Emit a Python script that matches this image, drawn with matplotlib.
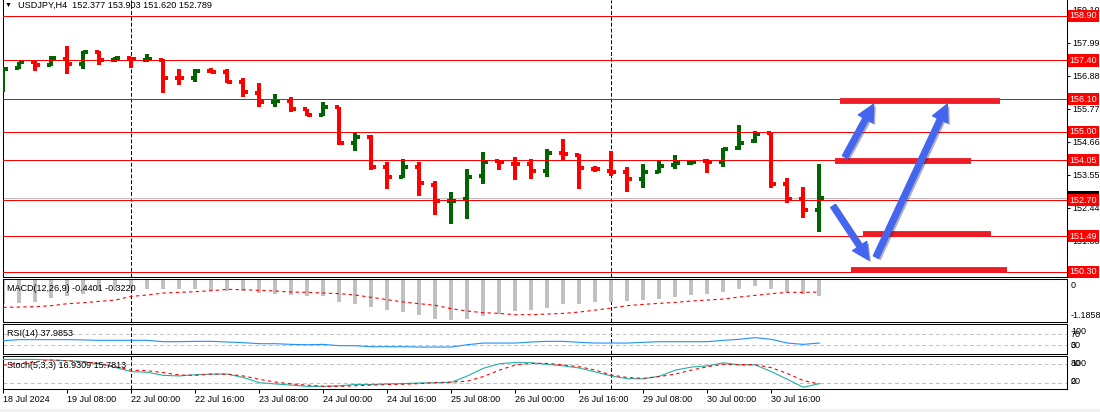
import matplotlib
matplotlib.use("Agg")
import matplotlib.pyplot as plt
import matplotlib.patheffects as pe
import matplotlib.transforms as mtransforms
from matplotlib.patches import FancyArrowPatch, Rectangle
import numpy as np

plt.rcParams['font.family'] = ['Liberation Sans', 'DejaVu Sans']

SYMBOL = "USDJPY,H4"

# H4 bars, 18 Jul 2024 .. 30 Jul 2024
opens = [156.47, 157.15, 157.33, 157.23, 157.46, 157.29, 157.67, 157.43, 157.47, 157.42,
         157.42, 156.81, 156.81, 157.05, 157.02, 156.67, 156.29, 156.01, 156.02, 155.77,
         155.56, 155.84, 154.63, 154.84, 153.82, 153.49, 153.82, 153.21, 152.66, 152.74,
         153.53, 154.02, 153.93, 153.91, 153.69, 154.29, 154.22, 153.75, 153.68, 153.66,
         153.42, 153.66, 153.88, 153.94, 154.02, 154.00, 154.44, 154.69, 154.95, 153.24,
         152.74, 152.377]
highs = [157.13, 157.35, 157.38, 157.55, 157.88, 157.70, 157.70, 157.52, 157.50, 157.60,
         157.45, 157.10, 157.10, 157.13, 157.10, 156.81, 156.63, 156.26, 156.18, 155.77,
         156.00, 155.84, 154.95, 154.89, 153.99, 154.10, 153.97, 153.35, 152.98, 153.75,
         154.32, 154.06, 154.16, 154.08, 154.42, 154.76, 154.24, 153.86, 154.35, 153.83,
         153.92, 154.02, 154.22, 154.06, 154.09, 154.44, 155.23, 155.03, 154.95, 153.44,
         153.13, 153.903]
lows = [156.33, 157.10, 157.06, 157.21, 156.95, 157.12, 157.26, 157.33, 157.16, 157.33,
        156.29, 156.56, 156.69, 156.98, 156.63, 156.18, 155.82, 155.82, 155.67, 155.53,
        155.53, 154.55, 154.34, 153.73, 153.09, 153.44, 152.83, 152.21, 151.91, 152.08,
        153.23, 153.72, 153.38, 153.42, 153.49, 154.05, 153.09, 153.66, 153.53, 152.98,
        153.12, 153.60, 153.74, 153.88, 153.60, 153.83, 154.39, 154.63, 153.12, 152.61,
        152.11, 151.620]
closes = [157.12, 157.33, 157.23, 157.47, 157.29, 157.67, 157.42, 157.47, 157.45, 157.46,
          156.81, 156.80, 157.06, 157.02, 156.67, 156.33, 156.01, 156.02, 155.76, 155.56,
          155.82, 154.61, 154.84, 153.82, 153.49, 153.82, 153.27, 152.66, 152.67, 153.49,
          153.99, 153.97, 153.92, 153.68, 154.29, 154.24, 153.80, 153.74, 153.66, 153.42,
          153.66, 153.86, 153.94, 154.00, 154.00, 154.42, 154.63, 154.94, 153.24, 152.73,
          152.37, 152.789]

macd_hist = [-0.719, -0.690, -0.642, -0.544, -0.486, -0.408, -0.311, -0.292, -0.262, -0.262,
             -0.262, -0.272, -0.272, -0.321, -0.321, -0.321, -0.389, -0.418, -0.457, -0.486,
             -0.476, -0.642, -0.700, -0.807, -0.885, -0.953, -1.030, -1.137, -1.186, -1.147,
             -1.069, -1.001, -0.923, -0.894, -0.816, -0.719, -0.700, -0.661, -0.651, -0.632,
             -0.593, -0.564, -0.515, -0.457, -0.428, -0.350, -0.282, -0.194, -0.262, -0.350,
             -0.418, -0.486]
macd_signal = [-0.807, -0.797, -0.787, -0.758, -0.700, -0.671, -0.632, -0.593, -0.486, -0.447,
               -0.389, -0.369, -0.350, -0.321, -0.282, -0.292, -0.311, -0.330, -0.360, -0.369,
               -0.389, -0.408, -0.447, -0.515, -0.583, -0.651, -0.700, -0.748, -0.846, -0.914,
               -0.962, -0.982, -1.021, -1.021, -1.001, -0.982, -0.943, -0.885, -0.826, -0.758,
               -0.719, -0.690, -0.661, -0.622, -0.593, -0.564, -0.505, -0.457, -0.408, -0.369,
               -0.369, -0.360]
rsi = [46.4, 50.0, 50.0, 50.0, 50.0, 49.0, 47.6, 47.6, 47.6, 47.6,
       42.8, 42.8, 44.0, 44.0, 41.7, 39.3, 35.7, 35.7, 33.3, 32.1,
       33.3, 28.6, 28.6, 25.0, 25.0, 25.0, 23.9, 23.9, 23.9, 32.1,
       38.0, 38.0, 38.0, 41.7, 44.0, 44.0, 40.5, 38.0, 38.0, 38.0,
       40.5, 42.8, 42.8, 42.8, 42.8, 47.6, 51.2, 57.2, 51.0, 38.0,
       33.3, 37.99]
stoch_main = [96, 96, 96, 94, 92, 89, 81, 70, 56, 54,
              44, 42, 46, 48, 48, 37, 20, 16, 12, 8,
              8, 10, 14, 14, 16, 17, 19, 20, 21, 42,
              67, 82, 86, 85, 80, 75, 68, 55, 42, 33,
              33, 41, 61, 71, 75, 85, 78, 78, 56, 31,
              5, 16.93]
stoch_signal = [77, 83, 88, 94, 92, 88, 83, 72, 61, 59,
                53, 45, 44, 48, 48, 42, 31, 22, 16, 12,
                8, 8, 10, 12, 14, 15, 17, 20, 22, 25,
                40, 61, 78, 83, 83, 78, 72, 61, 45, 37,
                34, 40, 48, 61, 72, 80, 79, 79, 69, 50,
                27, 15.78]

time_labels = ["18 Jul 2024", "19 Jul 08:00", "22 Jul 00:00", "22 Jul 16:00", "23 Jul 08:00",
               "24 Jul 00:00", "24 Jul 16:00", "25 Jul 08:00", "26 Jul 00:00", "26 Jul 16:00",
               "29 Jul 08:00", "30 Jul 00:00", "30 Jul 16:00"]
label_step = 4
week_starts = [8, 38]

levels = [158.90, 157.40, 156.10, 155.00, 154.05, 152.70, 151.49, 150.30]
price_ticks = [159.10, 157.99, 156.88, 155.77, 154.66, 153.55, 152.44, 151.33, 150.22]

# hand drawn objects: (price, from bar, to bar) and arrows (start, end)
zones = [(156.05, 52.3, 62.3), (154.03, 52.0, 60.5), (151.57, 53.7, 61.7), (150.37, 53.0, 62.7)]
arrows = [((52.6, 154.15), (54.4, 155.93)),
          ((51.86, 152.51), (54.1, 150.69)),
          ((54.54, 150.79), (59.0, 155.93))]

W, H = 1100, 412
fig = plt.figure(figsize=(W / 100, H / 100), dpi=100)


def rect(top, bottom, left=2.7, right=1067):
    return [left / W, 1 - bottom / H, (right - left) / W, (bottom - top) / H]


ax_p = fig.add_axes(rect(0, 277))
ax_m = fig.add_axes(rect(279, 322))
ax_r = fig.add_axes(rect(324, 354))
ax_s = fig.add_axes(rect(356, 389))
panels = [ax_p, ax_m, ax_r, ax_s]

n = len(closes)
x = np.arange(n)
for ax in panels:
    ax.set_xlim(-0.04, 66.48)
    for sp in ax.spines.values():
        sp.set_linewidth(0.75)
    ax.tick_params(left=False, labelleft=False, bottom=False, labelbottom=False,
                   right=False, labelright=False)
    for ws in week_starts:
        ax.axvline(ws, color='black', lw=0.7, ls=(0, (4, 2)), zorder=1)
ax_p.spines['top'].set_visible(False)

# price bars
colors = ['#006400' if c >= o else '#ff0000' for o, c in zip(opens, closes)]
ax_p.vlines(x, lows, highs, colors=colors, lw=1.5, antialiased=False, zorder=3)
ax_p.hlines(opens, x - 0.28, x, colors=colors, lw=1.5, antialiased=False, zorder=3)
ax_p.hlines(closes, x, x + 0.28, colors=colors, lw=1.5, antialiased=False, zorder=3)

ax_p.axhline(closes[-1], color='#c0c0c0', lw=0.6, antialiased=False, zorder=2)
for lvl in levels:
    ax_p.axhline(lvl, color='#ff0000', lw=0.6, antialiased=False, zorder=4)
for p, a, b in zones:
    ax_p.hlines(p, a, b, color='#ee1c24', lw=4.2, zorder=5)
for (x0, y0), (x1, y1) in arrows:
    arr = FancyArrowPatch((x0, y0), (x1, y1),
                          arrowstyle='simple,head_length=1.1,head_width=1.1,tail_width=0.38',
                          mutation_scale=11, color='#4466ee', shrinkA=0, shrinkB=0, zorder=6,
                          path_effects=[pe.SimplePatchShadow(offset=(1.5, -1.5), alpha=0.35),
                                        pe.Normal()])
    ax_p.add_patch(arr)

ax_p.set_ylim(150.12, 159.43)
ax_p.yaxis.tick_right()
ax_p.set_yticks(price_ticks)
ax_p.set_yticklabels([f"{t:.2f}" for t in price_ticks])
ax_p.tick_params(axis='y', right=True, labelright=True, length=2.5, width=0.75,
                 pad=1.5, labelsize=6.5)

trans = mtransforms.blended_transform_factory(fig.transFigure, ax_p.transData)
ax_p.text(1069.5 / W, closes[-1], f"{closes[-1]:.2f}", transform=trans, color='white',
          ha='left', va='center', fontsize=6.5, clip_on=False, zorder=9,
          bbox=dict(boxstyle='square,pad=0.18', fc='black', ec='none'))
for lvl in levels:
    ax_p.text(1069.5 / W, lvl, f"{lvl:.2f}", transform=trans, color='white',
              ha='left', va='center', fontsize=6.5, clip_on=False, zorder=10,
              bbox=dict(boxstyle='square,pad=0.18', fc='#ff0000', ec='none'))

# MACD
ax_m.vlines(x, macd_hist, 0, colors='#c0c0c0', lw=1.5, antialiased=False, zorder=2)
ax_m.plot(x, macd_signal, color='#ff0000', lw=0.8, ls=(0, (3, 3)), zorder=3)
ax_m.set_ylim(-1.233, 0.02)

# RSI
for lv in (70, 30):
    ax_r.axhline(lv, color='#c0c0c0', lw=0.7, ls=(0, (4, 3)), zorder=1)
ax_r.plot(x, rsi, color='#1e90ff', lw=0.8, zorder=3)
ax_r.set_ylim(-0.7, 105.3)

# Stochastic
for lv in (80, 20):
    ax_s.axhline(lv, color='#c0c0c0', lw=0.7, ls=(0, (4, 3)), zorder=1)
ax_s.plot(x, stoch_main, color='#20b2aa', lw=0.8, zorder=3)
ax_s.plot(x, stoch_signal, color='#ff0000', lw=0.8, ls=(0, (3, 3)), zorder=3)
ax_s.set_ylim(-0.65, 107.2)

ax_s.set_xticks(x[::label_step])
ax_s.set_xticklabels(time_labels, ha='left')
ax_s.tick_params(axis='x', bottom=True, labelbottom=True, length=3, width=0.75,
                 pad=1.5, labelsize=6.5)

# texts
fig.text(5 / W, 1 - 5 / H, "\u25bc", fontsize=5, va='center')
fig.text(18 / W, 1 - 5 / H,
         f"{SYMBOL}  {opens[-1]:.3f} {highs[-1]:.3f} {lows[-1]:.3f} {closes[-1]:.3f}",
         fontsize=6.6, va='center')
fig.text(7 / W, 1 - 288.3 / H, "MACD(12,26,9) -0.4401 -0.3220", fontsize=6.5, va='center')
fig.text(7 / W, 1 - 333.3 / H, "RSI(14) 37.9853", fontsize=6.5, va='center')
fig.text(7 / W, 1 - 366 / H, "Stoch(5,3,3) 16.9309 15.7813", fontsize=6.5, va='center')

# MT4 prints max/min and level values on the right; they overlap in narrow panes
right_labels = [("0", 285.5), ("-1.1858", 315.5),
                ("100", 331), ("70", 334.5), ("30", 345), ("0", 346),
                ("100", 363.7), ("80", 363.7), ("20", 382), ("0", 382)]
for s, yy in right_labels:
    fig.text(1071 / W, 1 - yy / H, s, fontsize=6.5, va='center')

fig.patches.append(Rectangle((0, 0), 1, 3.5 / H, transform=fig.transFigure,
                             fc='#f0f0f0', ec='none'))

fig.savefig('out.png', dpi=100)
